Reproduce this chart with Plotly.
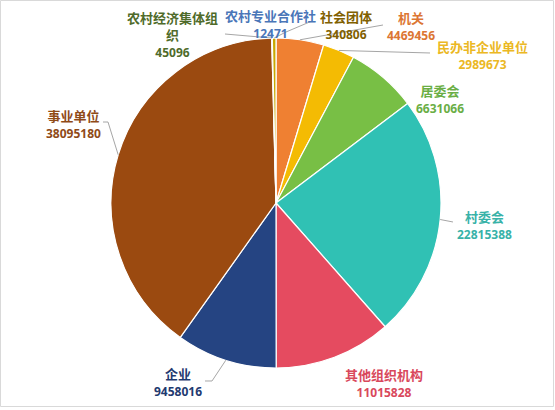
import math
import plotly.graph_objects as go

# ---- data ----
categories = ["机关", "民办非企业单位", "居委会", "村委会", "其他组织机构",
              "企业", "事业单位", "农村经济集体组织", "农村专业合作社", "社会团体"]
values = [4469456, 2989673, 6631066, 22815388, 11015828,
          9458016, 38095180, 45096, 12471, 340806]
display_names = ["机关", "民办非企业单位", "居委会", "村委会", "其他组织机构",
                 "企业", "事业单位", "农村经济集体组<br>织", "农村专业合作社", "社会团体"]

# ---- styles ----
slice_colors = ["#EF8032", "#F4BB03", "#78BF45", "#30C1B4", "#E54B60",
                "#254482", "#9B4A10", "#4F7F2A", "#4A7BC4", "#C9A800"]
label_colors = ["#DC7633", "#EBB824", "#6AAE45", "#38B2A8", "#D9485C",
                "#1F3A70", "#8F4A17", "#4F6B2A", "#4A76B8", "#806000"]

W, H = 555, 410
CX, CY, R = 276, 203, 165  # pie centre / radius in pixels

# label layout (pixel centres of the whole label block): x, y
label_pos = {
    "机关": (411, 25.5),
    "民办非企业单位": (482, 54.5),
    "居委会": (440, 98.5),
    "村委会": (484, 224.5),
    "其他组织机构": (384, 382.5),
    "企业": (178, 382),
    "事业单位": (73, 123.5),
    "农村经济集体组织": (172.5, 35),
    "农村专业合作社": (270, 23.5),
    "社会团体": (346, 24.5),
}
# leader line label-side points (pixels)
leader_pts = {
    "事业单位": [(103, 122), (108, 122)],
    "村委会": [(453, 222)],
    "企业": [(205, 381), (212, 381)],
    "民办非企业单位": [(430, 53)],
    "机关": [(383, 25)],
    "社会团体": [(312, 21), (286, 32)],
    "农村经济集体组织": [(225, 34)],
}


def px(x):
    return x / W


def py(y):
    return 1 - y / H


total = sum(values)
mid_angle = {}
cum = 0
for c, v in zip(categories, values):
    mid_angle[c] = (cum + v / 2) / total * 2 * math.pi
    cum += v

fig = go.Figure(go.Pie(
    labels=categories, values=values, sort=False, direction="clockwise",
    rotation=0, textinfo="none", hoverinfo="label+value",
    marker=dict(colors=slice_colors, line=dict(color="white", width=1.2)),
    domain=dict(x=[px(CX - R), px(CX + R)], y=[py(CY + R), py(CY - R)]),
    showlegend=False,
))

annotations = []
shapes = []
for c, name, col in zip(categories, display_names, label_colors):
    x, y = label_pos[c]
    v = values[categories.index(c)]
    txt = ("<b>%s</b><br><span style='font-family:Noto Sans;font-size:12px'>"
           "<b>%d</b></span>") % (name, v)
    annotations.append(dict(
        x=px(x), y=py(y), xref="paper", yref="paper", showarrow=False,
        text=txt, xanchor="center", yanchor="middle", align="center",
        borderpad=0,
        font=dict(family="Noto Sans CJK SC", size=13, color=col)))

for c, pts in leader_pts.items():
    a = mid_angle[c]
    ex, ey = CX + R * math.sin(a), CY - R * math.cos(a)
    path_pts = pts + [(ex, ey)]
    d = "M %f,%f " % (px(path_pts[0][0]), py(path_pts[0][1]))
    for (qx, qy) in path_pts[1:]:
        d += "L %f,%f " % (px(qx), py(qy))
    shapes.append(dict(type="path", path=d, xref="paper", yref="paper",
                       line=dict(color="#A6A6A6", width=1)))

shapes.append(dict(type="rect", xref="paper", yref="paper",
                   x0=px(0.5), x1=px(553.5), y0=py(406.5), y1=py(0.5),
                   line=dict(color="#D9D9D9", width=1)))

fig.update_layout(
    width=W, height=H, margin=dict(l=0, r=0, t=0, b=0),
    paper_bgcolor="white", plot_bgcolor="white",
    annotations=annotations, shapes=shapes,
)

fig.write_html(
    "out.html",
    config={"displayModeBar": False},
    post_script="document.body.style.margin='0px';document.body.style.overflow='hidden';",
)
